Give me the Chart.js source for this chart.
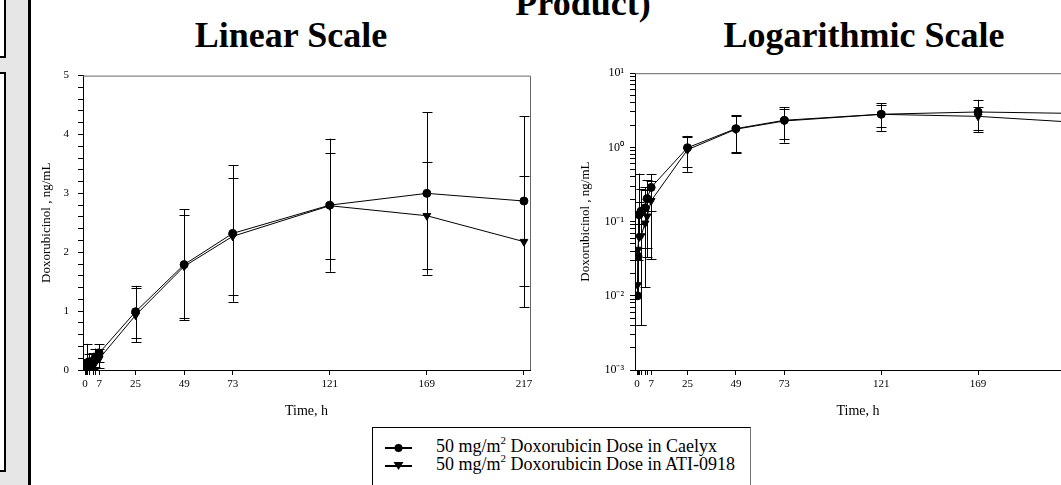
<!DOCTYPE html>
<html lang="en">
<head>
<meta charset="UTF-8" />
<title>Doxorubicinol - Caelyx vs ATI-0918</title>
<script src="https://cdn.jsdelivr.net/npm/chart.js"></script>
<style>
  html, body { margin: 0; padding: 0; background: #fff; }
  body { width: 1061px; height: 485px; overflow: hidden; position: relative; font-family: 'Liberation Serif', 'Times New Roman', serif; }
  .strip { position: absolute; left: 0; top: 0; width: 28px; height: 485px; background: #e6e6e6; border-right: 3px solid #000; }
  .box { position: absolute; left: -10px; width: 12px; border: 2px solid #000; background: #fff; }
  .title { position: absolute; font-weight: bold; font-size: 36px; line-height: 36px; text-align: center; white-space: nowrap; }
  canvas { position: absolute; }
  .legend { position: absolute; left: 372px; top: 427px; width: 377px; height: 80px; border: 1px solid #000; border-right-color: #777; background: #fff; }
  .row { position: absolute; left: 12px; font-size: 18px; line-height: 18px; white-space: nowrap; }
  .row svg { vertical-align: middle; margin-right: 24px; }
  .row sup { font-size: 11px; vertical-align: 8px; line-height: 0; }
</style>
</head>
<body>
  <div class="strip"></div>
  <div class="box" style="top:-10px;height:64px"></div>
  <div class="box" style="top:72px;height:396px"></div>

  <div class="title" style="left:383px;width:400px;top:-15px">Product)</div>
  <div class="title" style="left:91px;width:400px;top:17px">Linear Scale</div>
  <div class="title" style="left:664px;width:400px;top:17px">Logarithmic Scale</div>

  <canvas id="linChart" width="501" height="360" style="left:39px;top:60px"></canvas>
  <canvas id="logChart" width="513" height="360" style="left:578px;top:60px"></canvas>

  <div class="legend">
    <div class="row" style="top:9px">
      <svg width="27" height="12"><line x1="0" y1="6" x2="27" y2="6" stroke="#000" stroke-width="2"/><circle cx="13.5" cy="6" r="4" fill="#000"/></svg>50 mg/m<sup>2</sup> Doxorubicin Dose in Caelyx
    </div>
    <div class="row" style="top:27px">
      <svg width="27" height="12"><line x1="0" y1="6" x2="27" y2="6" stroke="#000" stroke-width="2"/><polygon points="8.5,2 18.5,2 13.5,10" fill="#000"/></svg>50 mg/m<sup>2</sup> Doxorubicin Dose in ATI-0918
    </div>
  </div>

<script>
  // sampling times (h) and mean +/- SD of doxorubicinol (ng/mL)
  const times = [0.25, 0.5, 1, 2, 4, 5, 7, 25, 49, 73, 121, 169, 217];
  const caelyxMean = [0.010, 0.034, 0.124, 0.138, 0.153, 0.204, 0.289, 0.99, 1.79, 2.32, 2.80, 3.00, 2.87];
  const caelyxSd   = [0.020, 0.060, 0.320, 0.134, 0.140, 0.160, 0.150, 0.44, 0.94, 1.16, 1.13, 1.38, 1.44];
  const atiMean = [0.014, 0.042, 0.062, 0.064, 0.095, 0.118, 0.191, 0.93, 1.76, 2.27, 2.79, 2.62, 2.18];
  const atiSd   = [0.030, 0.080, 0.120, 0.060, 0.170, 0.085, 0.160, 0.46, 0.88, 0.99, 0.90, 0.91, 1.11];

  // axis ticks
  const xTicks = [0, 0.25, 0.5, 1, 2, 4, 5, 7, 25, 49, 73, 121, 169, 217];
  const xLabels = [0, 7, 25, 49, 73, 121, 169, 217];
  const linYLabels = [0, 1, 2, 3, 4, 5];
  const logDecades = [-3, -2, -1, 0, 1];
  const logYLabels = ['10⁻³', '10⁻²', '10⁻¹', '10⁰', '10¹'];

  const FONT = 'Liberation Serif';

  const pts = (means) => times.map((t, i) => ({ x: t, y: means[i] }));

  // draws the SD bars behind the markers, using the chart's own scales
  const errorBars = {
    id: 'errorBars',
    beforeDatasetsDraw(chart) {
      const { ctx, chartArea, scales } = chart;
      const y = scales.y;
      const isLog = y.type === 'logarithmic';
      ctx.save();
      ctx.beginPath();
      ctx.rect(chartArea.left, chartArea.top - 2, chartArea.right - chartArea.left + 6, chartArea.bottom - chartArea.top + 2);
      ctx.clip();
      ctx.strokeStyle = '#000';
      ctx.lineWidth = 1;
      chart.data.datasets.forEach((ds, di) => {
        const meta = chart.getDatasetMeta(di);
        meta.data.forEach((pt, i) => {
          const m = ds.data[i].y, sd = ds.sd[i];
          const px = Math.round(pt.x) + 0.5;
          const hi = y.getPixelForValue(m + sd);
          const lowOk = !isLog || m - sd > 0;
          const lo = lowOk ? y.getPixelForValue(m - sd) : pt.y;
          ctx.beginPath();
          ctx.moveTo(px, hi); ctx.lineTo(px, lo);
          ctx.moveTo(px - 5, Math.round(hi) + 0.5); ctx.lineTo(px + 5, Math.round(hi) + 0.5);
          if (lowOk) { ctx.moveTo(px - 5, Math.round(lo) + 0.5); ctx.lineTo(px + 5, Math.round(lo) + 0.5); }
          ctx.stroke();
        });
      });
      ctx.restore();
    }
  };

  // grey top/right frame of the plot box
  const frame = {
    id: 'frame',
    afterDraw(chart) {
      const { ctx, chartArea: a } = chart;
      ctx.save();
      ctx.strokeStyle = '#666';
      ctx.lineWidth = 1;
      ctx.beginPath();
      ctx.moveTo(a.left, a.top + 0.5); ctx.lineTo(a.right + 0.5, a.top + 0.5); ctx.lineTo(a.right + 0.5, a.bottom);
      ctx.stroke();
      ctx.restore();
    }
  };

  function makeChart(id, yScale, yWidth) {
    return new Chart(document.getElementById(id), {
      type: 'line',
      data: {
        datasets: [
          {
            label: '50 mg/m2 Doxorubicin Dose in Caelyx',
            data: pts(caelyxMean), sd: caelyxSd,
            borderColor: '#000', backgroundColor: '#000', borderWidth: 1,
            pointStyle: 'circle', pointRadius: 4, tension: 0
          },
          {
            label: '50 mg/m2 Doxorubicin Dose in ATI-0918',
            data: pts(atiMean), sd: atiSd,
            borderColor: '#000', backgroundColor: '#000', borderWidth: 1,
            pointStyle: 'triangle', rotation: 180, pointRadius: 4.5, tension: 0
          }
        ]
      },
      options: {
        responsive: false,
        animation: false,
        devicePixelRatio: 1,
        layout: { padding: { top: 12, right: 10, left: 0, bottom: 0 } },
        plugins: { legend: { display: false }, tooltip: { enabled: false } },
        scales: {
          x: {
            type: 'linear', min: -1, max: 220,
            afterBuildTicks: s => { s.ticks = xTicks.map(v => ({ value: v })); },
            afterFit: s => { s.height = 50; },
            grid: { drawOnChartArea: false, color: '#000', tickLength: 5 },
            border: { color: '#000' },
            ticks: {
              autoSkip: false, maxRotation: 0, padding: 3, color: '#000',
              font: { family: FONT, size: 11 },
              callback: v => xLabels.includes(v) ? String(v) : ''
            },
            title: { display: true, text: 'Time, h', color: '#000', padding: 0, font: { family: FONT, size: 14 } }
          },
          y: Object.assign(yScale, {
            afterFit: s => { s.width = yWidth; },
            grid: { drawOnChartArea: false, color: '#000', tickLength: 5 },
            border: { color: '#000' },
            title: { display: true, text: 'Doxorubicinol , ng/mL', color: '#000', padding: 0, font: { family: FONT, size: 13 } }
          })
        }
      },
      plugins: [errorBars, frame]
    });
  }

  makeChart('linChart', {
    type: 'linear', min: 0, max: 5,
    afterBuildTicks: s => {
      const t = [];
      for (let i = 0; i <= 25; i++) t.push({ value: i / 5 });
      s.ticks = t;
    },
    ticks: {
      autoSkip: false, padding: 9, color: '#000', font: { family: FONT, size: 11 },
      callback: v => linYLabels.includes(Math.round(v * 1000) / 1000) ? String(Math.round(v)) : ''
    }
  }, 44);

  makeChart('logChart', {
    type: 'logarithmic', min: 0.001, max: 10,
    afterBuildTicks: s => {
      const t = [];
      logDecades.forEach(d => {
        for (let k = 1; k <= 9; k++) {
          if (d === 1 && k > 1) break;
          t.push({ value: k * Math.pow(10, d) });
        }
      });
      s.ticks = t;
    },
    ticks: {
      autoSkip: false, padding: 6, color: '#000', font: { family: FONT, size: 12 },
      callback: (v) => {
        const d = Math.log10(v);
        const i = logDecades.findIndex(e => Math.abs(e - d) < 1e-6);
        return i >= 0 ? logYLabels[i] : '';
      }
    }
  }, 57);
</script>
</body>
</html>
